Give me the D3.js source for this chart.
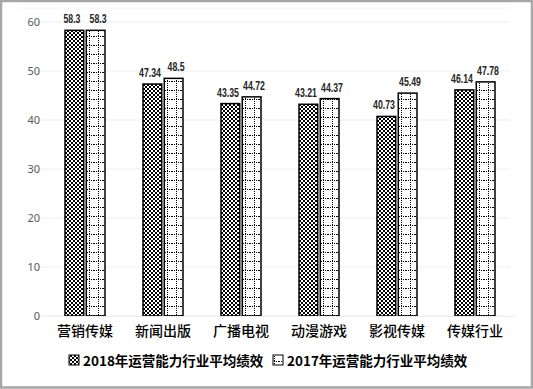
<!DOCTYPE html>
<html>
<head>
<meta charset="utf-8">
<script src="https://cdn.jsdelivr.net/npm/d3@7"></script>
<style>
  body { margin: 0; background: #fff; }
  svg { display: block; }
  text { font-family: "Noto Sans CJK SC", "Noto Sans", sans-serif; }
</style>
</head>
<body>
<svg id="chart" width="533" height="389"></svg>
<script>
const categories = ["营销传媒", "新闻出版", "广播电视", "动漫游戏", "影视传媒", "传媒行业"]
const series = ["2018年运营能力行业平均绩效", "2017年运营能力行业平均绩效"]
const values2018 = [58.3, 47.34, 43.35, 43.21, 40.73, 46.14]
const values2017 = [58.3, 48.5, 44.72, 44.37, 45.49, 47.78]
const yTicks = [0, 10, 20, 30, 40, 50, 60]

const W = 533, H = 389
const margin = { top: 8, left: 46, right: 19, bottom: 73 }

const svg = d3.select("#chart")

// outer frame
svg.append("rect")
  .attr("x", 1).attr("y", 1).attr("width", W - 2).attr("height", H - 2.5)
  .attr("fill", "#fff").attr("stroke", "#a6a6a6").attr("stroke-width", 2.5)

const defs = svg.append("defs")

// small checkerboard for 2018
const chk = defs.append("pattern").attr("id", "checker")
  .attr("patternUnits", "userSpaceOnUse").attr("width", 4).attr("height", 4)
chk.append("rect").attr("width", 4).attr("height", 4).attr("fill", "#fff")
chk.append("rect").attr("width", 2).attr("height", 2).attr("fill", "#000")
chk.append("rect").attr("x", 2).attr("y", 2).attr("width", 2).attr("height", 2).attr("fill", "#000")

// dotted grid for 2017
const grid = defs.append("pattern").attr("id", "dotgrid")
  .attr("patternUnits", "userSpaceOnUse").attr("width", 9).attr("height", 9)
grid.append("rect").attr("width", 9).attr("height", 9).attr("fill", "#fff")
grid.append("line").attr("x1", 0).attr("x2", 9).attr("y1", 0.5).attr("y2", 0.5)
  .attr("stroke", "#000").attr("stroke-width", 1).attr("stroke-dasharray", "1,1")
grid.append("line").attr("x1", 4.5).attr("x2", 4.5).attr("y1", 0).attr("y2", 9)
  .attr("stroke", "#000").attr("stroke-width", 1).attr("stroke-dasharray", "1,1")

const fills = ["url(#checker)", "url(#dotgrid)"]

const x0 = d3.scaleBand()
  .domain(categories)
  .range([margin.left, W - margin.right])
  .paddingInner(0).paddingOuter(0)

const x1 = d3.scaleBand()
  .domain(series)
  .range([-20, 20])
  .paddingInner(0.12)

const y = d3.scaleLinear()
  .domain([0, 60])
  .range([316, 22])

// gridlines
svg.append("g")
  .selectAll("line")
  .data(yTicks)
  .enter().append("line")
  .attr("x1", margin.left - 10).attr("x2", W - margin.right - 4)
  .attr("y1", d => y(d)).attr("y2", d => y(d))
  .attr("stroke", "#eeeeee").attr("stroke-width", 1)

svg.append("line")
  .attr("x1", 20).attr("x2", W - margin.right - 4)
  .attr("y1", margin.top).attr("y2", margin.top)
  .attr("stroke", "#f3f3f3")

// y axis labels
const yAxis = svg.append("g")
  .attr("transform", "translate(" + (margin.left - 6) + ",0)")
  .call(d3.axisLeft(y).tickValues(yTicks).tickSize(0).tickPadding(0))
yAxis.select(".domain").remove()
yAxis.selectAll("text")
  .attr("fill", "#595959")
  .style("font-size", "11px")
  .style("font-family", "\"Noto Sans\", sans-serif")

const rows = categories.map((c, i) => ({ cat: c, vals: [values2018[i], values2017[i]] }))

const groups = svg.append("g")
  .selectAll("g")
  .data(rows)
  .enter().append("g")
  .attr("transform", d => "translate(" + (x0(d.cat) + x0.bandwidth() / 2) + ",0)")

groups.selectAll("rect")
  .data(d => d.vals.map((v, j) => ({ v: v, s: series[j], j: j })))
  .enter().append("rect")
  .attr("x", d => x1(d.s))
  .attr("width", x1.bandwidth())
  .attr("y", d => y(d.v))
  .attr("height", d => y(0) - y(d.v))
  .attr("fill", d => fills[d.j])
  .attr("stroke", "#000")
  .attr("stroke-width", 1.5)

// Calibri-like narrow width for the value labels, pairs nudged apart a little
const labelWidth = s => s.split("").reduce((w, ch) => w + (ch === "." ? 2.3 : 4.9), 0)
const nudge = [-2.4, 2.4]

groups.selectAll("text.val")
  .data(d => d.vals.map((v, j) => ({ v: v, s: series[j], j: j })))
  .enter().append("text")
  .attr("class", "val")
  .attr("x", d => x1(d.s) + x1.bandwidth() / 2 + nudge[d.j] - labelWidth(String(d.v)) / 2)
  .attr("y", d => y(d.v) - 7)
  .attr("textLength", d => labelWidth(String(d.v)))
  .attr("lengthAdjust", "spacingAndGlyphs")
  .style("font-size", "12px")
  .style("font-weight", "bold")
  .style("font-family", "\"Liberation Sans\", sans-serif")
  .attr("fill", "#262626")
  .text(d => d.v)

// x axis labels
const xAxis = svg.append("g")
  .attr("transform", "translate(0," + y(0) + ")")
  .call(d3.axisBottom(x0).tickSize(0).tickPadding(10))
xAxis.select(".domain").attr("stroke", "#eeeeee")
xAxis.selectAll("text")
  .attr("fill", "#000")
  .style("font-size", "14px")
  .style("font-weight", "500")
  .style("font-family", "\"Noto Sans CJK SC\", sans-serif")

// legend
const legend = svg.append("g").attr("transform", "translate(0,361)")
const legendX = [69, 273]
series.forEach((s, j) => {
  legend.append("rect")
    .attr("x", legendX[j]).attr("y", -6)
    .attr("width", 10).attr("height", 10)
    .attr("fill", fills[j]).attr("stroke", "#000").attr("stroke-width", 1)
  legend.append("text")
    .attr("x", legendX[j] + 14).attr("y", 4.5)
    .style("font-size", "13.5px")
    .style("font-weight", "bold")
    .attr("fill", "#000")
    .text(s)
})
</script>
</body>
</html>
